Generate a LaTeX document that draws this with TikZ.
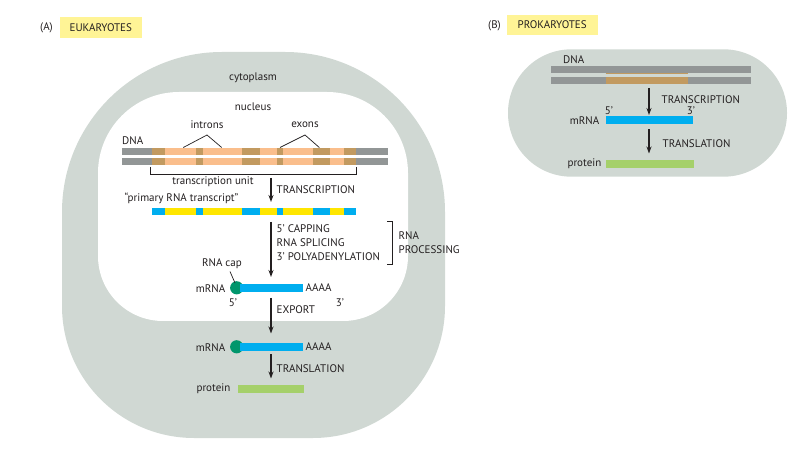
\documentclass[tikz,border=0pt]{standalone}
\usepackage{fontspec}
\setmainfont{PT Sans}
\usetikzlibrary{arrows.meta}
\definecolor{cyto}{RGB}{208,216,211}
\definecolor{dnagray}{RGB}{146,150,150}
\definecolor{intron}{RGB}{250,190,140}
\definecolor{exon}{RGB}{194,154,96}
\definecolor{rnablue}{RGB}{0,174,239}
\definecolor{rnayellow}{RGB}{255,230,0}
\definecolor{capgreen}{RGB}{0,150,108}
\definecolor{protgreen}{RGB}{165,208,106}
\definecolor{tagyellow}{RGB}{255,244,150}
\definecolor{ink}{RGB}{35,31,32}
\begin{document}
\begin{tikzpicture}[x=1pt,y=-1pt,
  font=\fontsize{11}{13}\selectfont,
  every node/.style={text=ink, inner sep=0pt},
  flow/.style={draw=ink, line width=1.2pt, -{Stealth[length=7pt,width=5pt]}},
  thinline/.style={draw=ink, line width=0.7pt},
  tag/.style={fill=tagyellow, minimum height=20.5pt, inner xsep=6pt}]
\useasboundingbox (0,0) rectangle (806,462);

% ---------- (A) EUKARYOTES ----------
\node[anchor=west] (A) at (40,28) {(A)};
\node[tag, minimum width=81.7pt] (eukt) at (100.8,27.5) {EUKARYOTES};

% cytoplasm
\fill[cyto] (62,212) .. controls (62,123.6) and (133.6,52) .. (222,52) -- (285,52)
  .. controls (373.4,52) and (445,123.6) .. (445,212) -- (445,306)
  .. controls (445,378.9) and (385.9,438) .. (313,438) -- (194,438)
  .. controls (121.1,438) and (62,378.9) .. (62,306) -- cycle;
% nucleus
\fill[white] (98,173) .. controls (98,128.3) and (134.3,92) .. (179,92) -- (327,92)
  .. controls (371.7,92) and (408,128.3) .. (408,173) -- (408,256)
  .. controls (408,291.9) and (378.9,321) .. (343,321) -- (163,321)
  .. controls (127.1,321) and (98,291.9) .. (98,256) -- cycle;

\node (cyt) at (253,78) {cytoplasm};
\node (nuc) at (253,106.5) {nucleus};

% DNA strands
\foreach \ya/\yb in {148/155, 158/165.5}{
  \fill[dnagray] (122,\ya) rectangle (388,\yb);
  \foreach \xa/\xb/\c in {152/165/exon, 165/196/intron, 196/203.3/exon, 203.3/241.7/intron,
     241.7/260/exon, 260/276.7/intron, 276.7/282.7/exon, 282.7/313.3/intron,
     313.3/330/exon, 330/344.3/intron, 344.3/355.7/exon}
    \fill[\c] (\xa,\ya) rectangle (\xb,\yb);
}
\node[anchor=west] (dna) at (122,141) {DNA};
\node (introns) at (207,125) {introns};
\node (exons) at (305,125) {exons};
\coordinate (inapex) at (207,135);
\coordinate (exapex) at (305,135);
\coordinate (in1) at (183.3,147.5);
\coordinate (in2) at (221.7,147.5);
\coordinate (ex1) at (280,147.5);
\coordinate (ex2) at (319.3,147.5);
\draw[thinline] (in1) -- (inapex) -- (in2);
\draw[thinline] (ex1) -- (exapex) -- (ex2);

% transcription unit bracket
\coordinate (tu1) at (150,167);
\coordinate (tu2) at (356,167);
\draw[thinline] (tu1) -- (150,174.3) -- (356,174.3) -- (tu2);
\node (tulab) at (213,182) {transcription unit};

% primary transcript
\foreach \xa/\xb/\c in {152/165/rnablue, 165/196/rnayellow, 196/203.3/rnablue, 203.3/241.7/rnayellow,
     241.7/260/rnablue, 260/276.7/rnayellow, 276.7/282.7/rnablue, 282.7/313.3/rnayellow,
     313.3/330/rnablue, 330/344.3/rnayellow, 344.3/355.7/rnablue}
  \fill[\c] (\xa,207.7) rectangle (\xb,215.3);
\node (prim) at (181.5,198) {``primary RNA transcript''};

% arrows eukaryote
\coordinate (e1a) at (271,178);  \coordinate (e1b) at (271,202);
\coordinate (e2a) at (271,222);  \coordinate (e2b) at (271,277);
\coordinate (e3a) at (271,298);  \coordinate (e3b) at (271,333.5);
\coordinate (e4a) at (271,354);  \coordinate (e4b) at (271,378.5);
\draw[flow] (e1a) -- (e1b);
\draw[flow] (e2a) -- (e2b);
\draw[flow] (e3a) -- (e3b);
\draw[flow] (e4a) -- (e4b);
\node[anchor=west] (tr) at (276.5,190) {TRANSCRIPTION};
\node[anchor=west] (cap) at (276.5,229) {5' CAPPING};
\node[anchor=west] (spl) at (276.5,242.7) {RNA SPLICING};
\node[anchor=west] (poly) at (276.5,256.2) {3' POLYADENYLATION};
\coordinate (br1) at (387,221);
\coordinate (br2) at (387,264.3);
\draw[thinline] (br1) -- (392.3,221) -- (392.3,264.3) -- (br2);
\node[anchor=west] (rnap1) at (398.5,236) {RNA};
\node[anchor=west] (rnap2) at (398.5,249.5) {PROCESSING};

% mRNA in nucleus
\fill[capgreen] (236.7,287.8) circle[radius=6.6pt];
\fill[rnablue] (240,283.8) rectangle (303.3,292.2);
\coordinate (capdot) at (235,283);
\coordinate (captail) at (230,271.5);
\node (caplab) at (222,264) {RNA cap};
\draw[thinline] (captail) -- (capdot);
\node[anchor=east] (m1) at (225.5,288.5) {mRNA};
\node[anchor=west] (a1) at (305.5,288) {AAAA};
\node (five1) at (233,302.5) {5'};
\node (three1) at (340,302.5) {3'};
\node[anchor=west] (exp) at (276.5,310) {EXPORT};

% mRNA in cytoplasm
\fill[capgreen] (236.7,346.8) circle[radius=6.6pt];
\fill[rnablue] (240,342.7) rectangle (303.3,351);
\node[anchor=east] (m2) at (225.5,347.5) {mRNA};
\node[anchor=west] (a2) at (305.5,347) {AAAA};
\node[anchor=west] (tl) at (276.5,369) {TRANSLATION};
\fill[protgreen] (238.3,385) rectangle (304,392.7);
\node[anchor=east] (prot) at (230.5,389) {protein};

% ---------- (B) PROKARYOTES ----------
\node[anchor=west] (B) at (488,26) {(B)};
\node[tag, minimum width=91pt] (prokt) at (552.2,25) {PROKARYOTES};

\fill[cyto, rounded corners=63.5pt] (508,49.3) rectangle (787,176.7);
\fill[dnagray] (551,66) rectangle (750.7,73.3);
\fill[dnagray] (551,76.7) rectangle (750.7,84.3);
\fill[exon] (605.7,76.7) rectangle (687.7,84.3);
\draw[exon, line width=0.8pt] (605.7,73.6) -- (687.7,73.6);
\node[anchor=west] (pdna) at (563,59.3) {DNA};

\coordinate (p1a) at (649,88);  \coordinate (p1b) at (649,115);
\coordinate (p2a) at (649,129.5);  \coordinate (p2b) at (649,153.5);
\draw[flow] (p1a) -- (p1b);
\draw[flow] (p2a) -- (p2b);
\node[anchor=west] (ptr) at (661.5,99.3) {TRANSCRIPTION};
\node (pfive) at (609,111) {5'};
\node (pthree) at (691,111) {3'};
\fill[rnablue] (605.7,116) rectangle (692.7,124);
\node[anchor=east] (pm) at (599.5,121) {mRNA};
\node[anchor=west] (ptl) at (662.5,143.3) {TRANSLATION};
\fill[protgreen] (606,160) rectangle (694,167.7);
\node[anchor=east] (pprot) at (601.5,164) {protein};
\end{tikzpicture}
\end{document}
